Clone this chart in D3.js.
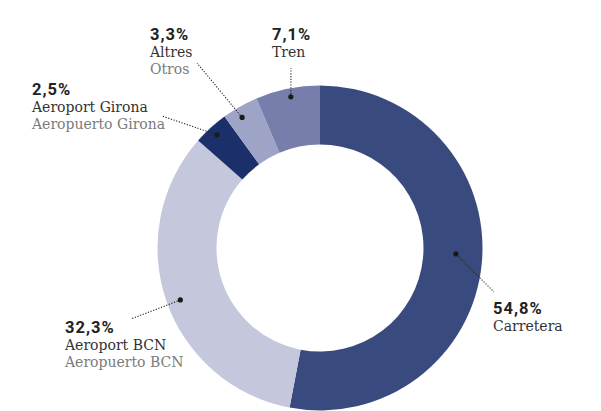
<!DOCTYPE html>
<html>
<head>
<meta charset="utf-8">
<script src="https://cdn.jsdelivr.net/npm/d3@7"></script>
<style>
  body { margin: 0; background: #fff; }
  svg { display: block; }
  .pct { font-family: Roboto, "Noto Sans", sans-serif; font-weight: 700; font-size: 16.5px; fill: #222; letter-spacing: 1px; }
  .name { font-family: "DejaVu Serif", serif; font-size: 14px; fill: #333; }
  .alt { font-family: "DejaVu Serif", serif; font-size: 14px; fill: #7b7b7b; }
</style>
</head>
<body>
<div id="chart"></div>
<script>
// chart data, clockwise from 12 o'clock
const categories = ["Carretera", "Aeroport BCN", "Aeroport Girona", "Altres", "Tren"];
const spanishNames = ["", "Aeropuerto BCN", "Aeropuerto Girona", "Otros", ""];
const pctLabels = ["54,8%", "32,3%", "2,5%", "3,3%", "7,1%"];
// slice sizes as drawn in the picture (%)
const arcShares = [53.0, 33.5, 3.5, 3.6, 6.4];
const colors = ["#394a7e", "#c5c8dd", "#1b306b", "#9ea4c6", "#787eab"];

const width = 601;
const height = 411;
const cx = 320;
const cy = 248;
const outerR = 162.5;
const innerR = 103.5;

// annotation layout: dot angle offset from slice middle (deg), dot radius, line end, label anchor
const labelLayout = [
    { dAng: -2.9, r: 136, end: [494, 292], text: [493, 314] },
    { dAng: -1.5, r: 149, end: [131, 319], text: [65, 333] },
    { dAng: 0, r: 153, end: [162, 116], text: [32, 95] },
    { dAng: -1.3, r: 152, end: [197, 63], text: [150, 40] },
    { dAng: 0.6, r: 154, end: [291, 68], text: [272, 40] }
];

const svg = d3.select("#chart")
    .append("svg")
    .attr("width", width)
    .attr("height", height);

const pie = d3.pie().sort(null).value((d) => d.value);
const arcs = pie(arcShares.map((v, i) => ({ value: v, i: i })));

const arc = d3.arc().innerRadius(innerR).outerRadius(outerR);

const g = svg.append("g").attr("transform", `translate(${cx},${cy})`);

g.selectAll("path")
    .data(arcs)
    .join("path")
    .attr("d", arc)
    .attr("fill", (d) => colors[d.data.i]);

// leader lines, dots and labels
arcs.forEach((d) => {
    const lay = labelLayout[d.data.i];
    const a = (d.startAngle + d.endAngle) / 2 + (lay.dAng * Math.PI) / 180;
    const px = cx + lay.r * Math.sin(a);
    const py = cy - lay.r * Math.cos(a);

    svg.append("line")
        .attr("x1", px)
        .attr("y1", py)
        .attr("x2", lay.end[0])
        .attr("y2", lay.end[1])
        .attr("stroke", "#222")
        .attr("stroke-width", 1.1)
        .attr("stroke-dasharray", "1.2,1.6");

    svg.append("circle")
        .attr("cx", px)
        .attr("cy", py)
        .attr("r", 2.6)
        .attr("fill", "#1a1a1a");

    const t = svg.append("text").attr("x", lay.text[0]).attr("y", lay.text[1]);
    t.append("tspan").attr("class", "pct").attr("x", lay.text[0]).text(pctLabels[d.data.i]);
    t.append("tspan").attr("class", "name").attr("x", lay.text[0]).attr("dy", 17).text(categories[d.data.i]);
    if (spanishNames[d.data.i]) {
        t.append("tspan").attr("class", "alt").attr("x", lay.text[0]).attr("dy", 17).text(spanishNames[d.data.i]);
    }
});
</script>
</body>
</html>
